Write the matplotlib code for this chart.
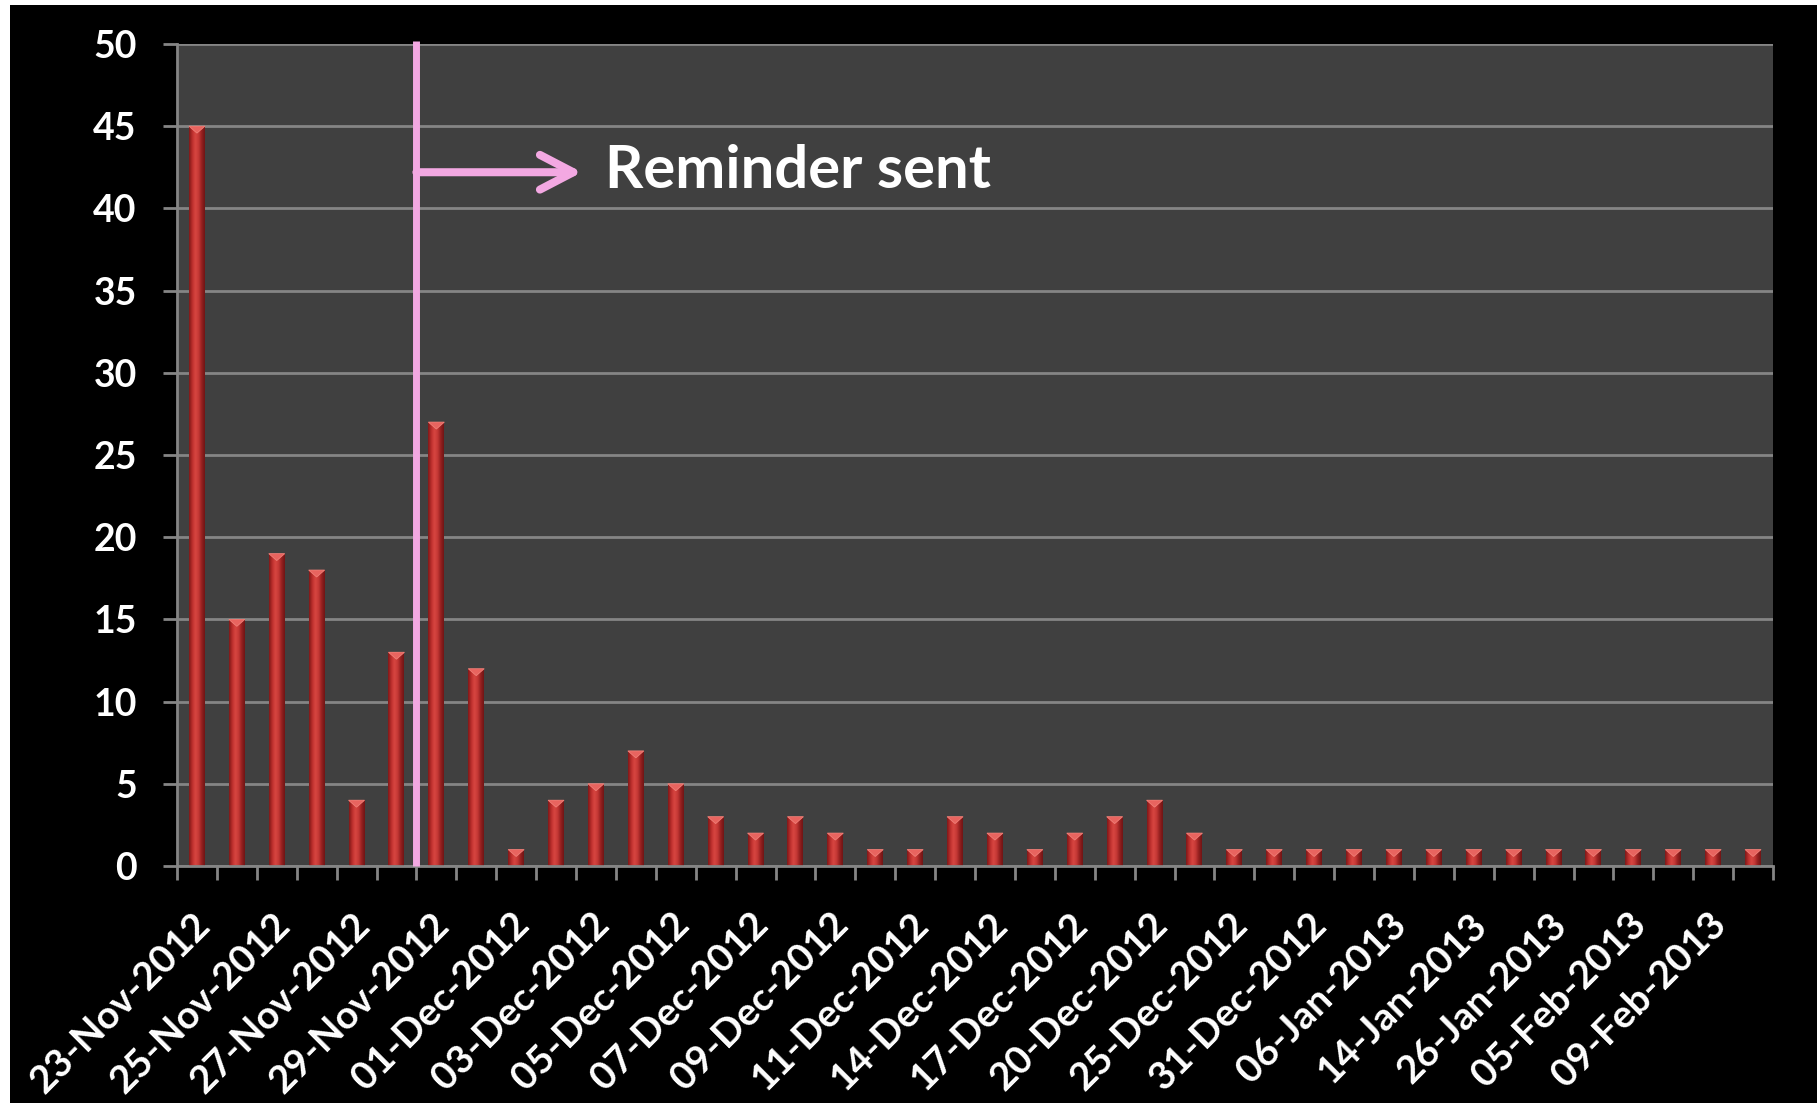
import numpy as np
import matplotlib
matplotlib.use("Agg")
import matplotlib.pyplot as plt
from matplotlib.colors import LinearSegmentedColormap
from matplotlib.patches import Rectangle, Polygon
from matplotlib.transforms import ScaledTranslation

dates = ["23-Nov-2012", "24-Nov-2012", "25-Nov-2012", "26-Nov-2012", "27-Nov-2012",
         "28-Nov-2012", "29-Nov-2012", "30-Nov-2012", "01-Dec-2012", "02-Dec-2012",
         "03-Dec-2012", "04-Dec-2012", "05-Dec-2012", "06-Dec-2012", "07-Dec-2012",
         "08-Dec-2012", "09-Dec-2012", "10-Dec-2012", "11-Dec-2012", "12-Dec-2012",
         "14-Dec-2012", "15-Dec-2012", "17-Dec-2012", "18-Dec-2012", "20-Dec-2012",
         "21-Dec-2012", "25-Dec-2012", "27-Dec-2012", "31-Dec-2012", "03-Jan-2013",
         "06-Jan-2013", "10-Jan-2013", "14-Jan-2013", "21-Jan-2013", "26-Jan-2013",
         "30-Jan-2013", "05-Feb-2013", "07-Feb-2013", "09-Feb-2013", "14-Feb-2013"]
responses = [45, 15, 19, 18, 4, 13, 27, 12, 1, 4,
             5, 7, 5, 3, 2, 3, 2, 1, 1, 3,
             2, 1, 2, 3, 4, 2, 1, 1, 1, 1,
             1, 1, 1, 1, 1, 1, 1, 1, 1, 1]
yticks = [0, 5, 10, 15, 20, 25, 30, 35, 40, 45, 50]

reminder_pos = 5.5   # between 28-Nov and 29-Nov
reminder_label = "Reminder sent"

pink = "#f3a8e2"
grid_gray = "#858585"
font = ["Lato", "DejaVu Sans"]

fig = plt.figure(figsize=(18.18, 11.03), dpi=100, facecolor="white")
# black slide background, thin white strip top/left
bg = Rectangle((10 / 1818, 0), 1807 / 1818, 1098 / 1103,
               transform=fig.transFigure, facecolor="black",
               edgecolor="none", zorder=-10)
fig.patches.append(bg)

ax = fig.add_axes([177 / 1818, 237 / 1103, 1596 / 1818, 822 / 1103])
ax.set_zorder(1)
ax.set_facecolor("#404040")

x = np.arange(len(responses))
w = 0.4
cyl = LinearSegmentedColormap.from_list(
    "cyl", ["#7e1818", "#bb2e2c", "#d84641", "#c63936", "#952020", "#701515"])
grad = np.linspace(0, 1, 64).reshape(1, -1)
cap = 0.42

for xi, v in zip(x, responses):
    im = ax.imshow(grad, cmap=cyl, aspect="auto", interpolation="bicubic",
                   extent=[xi - w / 2, xi + w / 2, 0, v], zorder=2)
    body = Rectangle((xi - w / 2, 0), w, v, facecolor="none", edgecolor="none")
    ax.add_patch(body)
    im.set_clip_path(body)
    tri = Polygon([(xi - w / 2, v), (xi + w / 2, v), (xi, v - cap)],
                  closed=True, facecolor="#e8645f", edgecolor="#f08078",
                  linewidth=0.6, zorder=3)
    ax.add_patch(tri)

ax.set_xlim(-0.5, len(responses) - 0.5)
ax.set_ylim(0, 50)

ax.set_yticks(yticks)
ax.yaxis.grid(True, color=grid_gray, linewidth=2)
ax.set_axisbelow(True)
for s in ["top", "right"]:
    ax.spines[s].set_visible(False)
for s in ["left", "bottom"]:
    ax.spines[s].set_color(grid_gray)
    ax.spines[s].set_linewidth(2)

ax.tick_params(axis="y", colors=grid_gray, length=10, width=2, pad=19)
for lab in ax.get_yticklabels():
    lab.set_color("white")
    lab.set_fontfamily(font)
    lab.set_fontweight("bold")
    lab.set_fontsize(27)

# category boundaries as ticks, labels on every other day
ax.set_xticks(np.arange(-0.5, len(responses), 1.0), minor=True)
ax.set_xticks(x[::2])
ax.set_xticklabels(dates[::2], rotation=45, ha="right", va="center",
                   rotation_mode="anchor", color="white", fontweight="bold",
                   fontsize=28, family=font)
ax.tick_params(axis="x", which="minor", colors=grid_gray, length=10, width=2)
ax.tick_params(axis="x", which="major", length=0, pad=38)
shift = ScaledTranslation(7 / 100, 0, fig.dpi_scale_trans)
for lab in ax.get_xticklabels():
    lab.set_transform(lab.get_transform() + shift)

# reminder marker
ax.plot([reminder_pos, reminder_pos], [0, 50.2], color=pink, linewidth=5,
        solid_capstyle="butt", clip_on=False, zorder=4)
ax.annotate("", xy=(9.65, 42.2), xytext=(reminder_pos, 42.2),
            arrowprops=dict(arrowstyle="->, head_length=2.4, head_width=1.25",
                            color=pink, lw=5.8, shrinkA=0, shrinkB=0,
                            capstyle="round", joinstyle="round"),
            zorder=4)
ax.text(10.22, 41.25, reminder_label, color="white", fontsize=43,
        fontweight="bold", family=font, ha="left", va="baseline", zorder=5)

fig.savefig("out.png", dpi=100, facecolor=fig.get_facecolor())
